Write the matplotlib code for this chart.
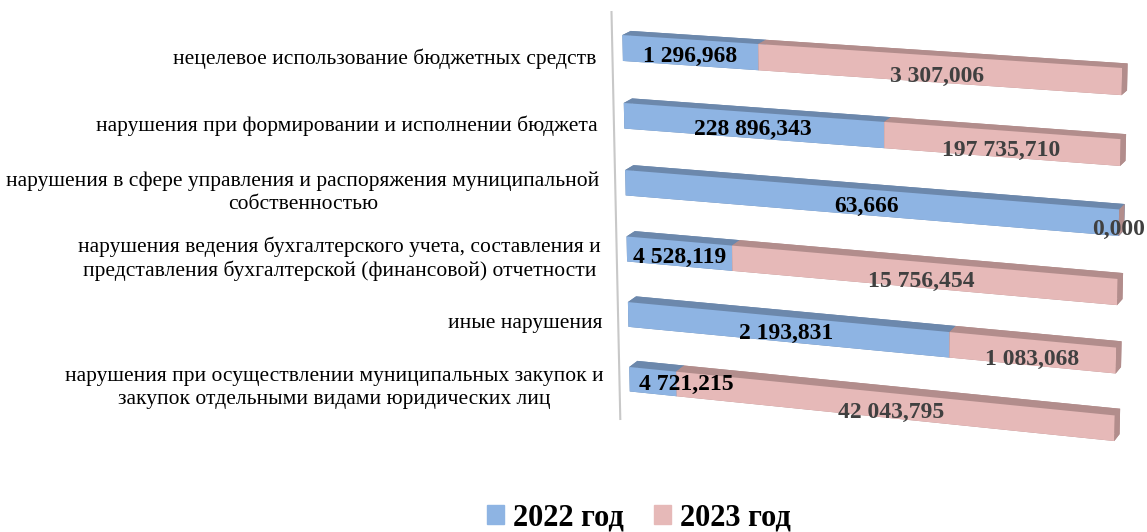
import numpy as np
import matplotlib.pyplot as plt
from matplotlib.patches import Patch

categories = [
    "нецелевое использование бюджетных средств",
    "нарушения при формировании и исполнении бюджета",
    "нарушения в сфере управления и распоряжения муниципальной\nсобственностью",
    "нарушения ведения бухгалтерского учета, составления и\nпредставления бухгалтерской (финансовой) отчетности",
    "иные нарушения",
    "нарушения при осуществлении муниципальных закупок и\nзакупок отдельными видами юридических лиц",
]
series_names = ["2022 год", "2023 год"]
val_2022 = np.array([1296.968, 228896.343, 63.666, 4528.119, 2193.831, 4721.215])
val_2023 = np.array([3307.006, 197735.710, 0.000, 15756.454, 1083.068, 42043.795])

c_front = ["#8EB4E3", "#E6B9B8"]
c_side = ["#6C88AC", "#B28D8C"]

def fmt(v):
    return f"{v:,.3f}".replace(",", " ").replace(".", ",")

plt.rcParams['font.family'] = ['Liberation Serif', 'DejaVu Serif']

fig = plt.figure(figsize=(11.47, 5.32), dpi=100)
ax = fig.add_axes([0.469, -0.062, 0.563, 1.2135], projection='3d')
ax.set_axis_off()
ax.set_proj_type('persp', focal_length=0.9)
ax.view_init(elev=15, azim=-72)

n = len(categories)
zc = np.arange(n)[::-1].astype(float)
h = 0.38
share22 = val_2022 / (val_2022 + val_2023)
share23 = 1 - share22

xs = np.concatenate([np.zeros(n), share22])
dxs = np.concatenate([share22, share23])
zs = np.concatenate([zc, zc]) - h / 2
fc = []
for k in range(2):
    for i in range(n):
        # faces: -z, +z, -y (front), +y, -x, +x
        fc += [c_side[k], c_side[k], c_front[k], c_side[k], c_side[k], c_side[k]]
ax.bar3d(xs, np.zeros(2 * n), zs, dxs, np.ones(2 * n), np.full(2 * n, h),
         color=fc, shade=False, linewidth=0)

ax.set_xlim(0, 1)
ax.set_ylim(0, 1)
ax.set_zlim(-0.5, n - 0.5)
ax.set_box_aspect((510, 22, 415))

# wall line
ax.plot([-0.04, -0.04], [1, 1], [-0.75, n - 0.55], color="#C8C8C8", lw=1.5)

for i in range(n):
    ax.text(-0.056, 0, zc[i] - 0.18, categories[i], ha='right', va='center',
            multialignment='center', fontsize=15.5, linespacing=1.25, zorder=100)
    if share22[i] < 0.15:
        ax.text(0.02, 0, zc[i] - 0.06, fmt(val_2022[i]), ha='left', va='center',
                fontsize=17, fontweight='bold', color='black', zorder=100)
    else:
        ax.text(share22[i] / 2, 0, zc[i] - 0.06, fmt(val_2022[i]), ha='center', va='center',
                fontsize=17, fontweight='bold', color='black', zorder=100)
    ax.text(share22[i] + share23[i] / 2, 0, zc[i] - 0.1, fmt(val_2023[i]), ha='center',
            va='center', fontsize=17, fontweight='bold', color='#404040', zorder=100)

handles = [Patch(color=c_front[0]), Patch(color=c_front[1])]
fig.legend(handles, series_names, loc='lower center', bbox_to_anchor=(0.557, -0.052),
           ncol=2, frameon=False, prop={'size': 22, 'weight': 'bold'},
           handlelength=0.55, handleheight=0.55, handletextpad=0.3, columnspacing=1.0)

fig.savefig("out.png", dpi=100)
